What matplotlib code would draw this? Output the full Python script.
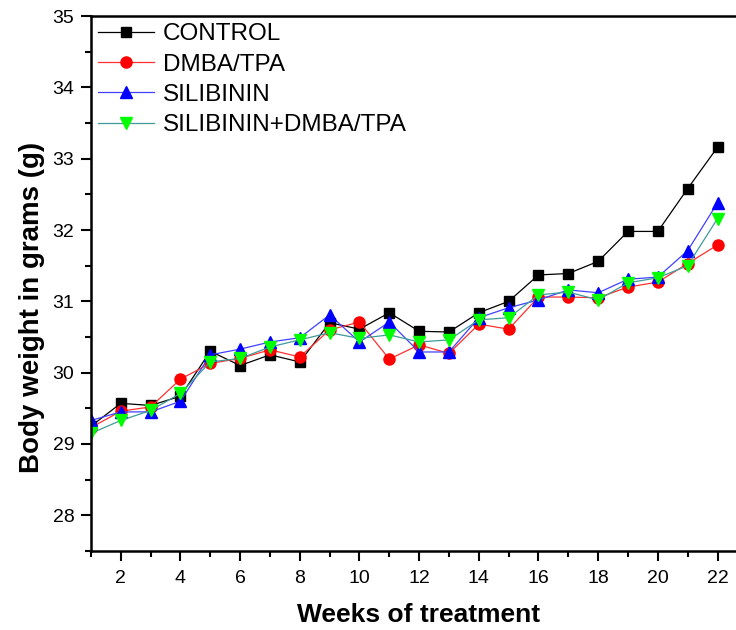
import matplotlib.pyplot as plt
from matplotlib.ticker import MultipleLocator

plt.rcParams['font.family'] = ['Liberation Sans', 'DejaVu Sans']

weeks = list(range(1, 23))
control = [29.25, 29.57, 29.54, 29.67, 30.30, 30.10, 30.25, 30.15, 30.70, 30.61, 30.84,
           30.58, 30.57, 30.84, 31.00, 31.37, 31.39, 31.56, 31.98, 31.98, 32.58, 33.16]
dmba_tpa = [29.23, 29.46, 29.52, 29.91, 30.13, 30.20, 30.32, 30.22, 30.60, 30.71, 30.19,
            30.39, 30.27, 30.68, 30.61, 31.06, 31.06, 31.05, 31.20, 31.27, 31.53, 31.79]
silibinin = [29.33, 29.45, 29.45, 29.60, 30.25, 30.33, 30.43, 30.49, 30.81, 30.43, 30.71,
             30.29, 30.29, 30.77, 30.91, 31.02, 31.16, 31.12, 31.31, 31.34, 31.71, 32.38]
sil_dmba = [29.15, 29.33, 29.47, 29.71, 30.15, 30.20, 30.36, 30.46, 30.56, 30.48, 30.53,
            30.43, 30.46, 30.74, 30.77, 31.09, 31.13, 31.02, 31.26, 31.33, 31.50, 32.16]

series = [
    ('CONTROL', control, 's', 'black', 'black', 7),
    ('DMBA/TPA', dmba_tpa, 'o', '#ff3030', 'red', 8),
    ('SILIBININ', silibinin, '^', '#4040ff', 'blue', 8.5),
    ('SILIBININ+DMBA/TPA', sil_dmba, 'v', '#3f9a9a', '#00ff00', 8.5),
]

fig = plt.figure(figsize=(7.36, 6.3), dpi=100)
ax = fig.add_axes([0.1236, 0.1254, 0.8764, 0.8492])

for name, vals, mk, lc, mc, ms in series:
    ax.plot(weeks, vals, color=lc, linewidth=0.9, marker=mk, markersize=ms,
            markerfacecolor=mc, markeredgecolor=mc, label=name)

ax.set_xlim(1, 22.62)
ax.set_ylim(27.5, 35)
ax.xaxis.set_major_locator(MultipleLocator(2))
ax.xaxis.set_minor_locator(MultipleLocator(1))
ax.yaxis.set_major_locator(MultipleLocator(1))
ax.yaxis.set_minor_locator(MultipleLocator(0.5))
ax.tick_params(which='major', length=7, width=1.5, labelsize=14, pad=5)
ax.tick_params(which='minor', length=4, width=1.5)
ax.tick_params(axis='x', which='major', pad=7)

for s in ['left', 'bottom', 'top']:
    ax.spines[s].set_linewidth(1.8)
ax.spines['right'].set_visible(False)

ax.set_xlabel('Weeks of treatment', fontsize=19, fontweight='bold')
ax.set_ylabel('Body weight in grams (g)', fontsize=20, fontweight='bold')
ax.xaxis.set_label_coords(0.508, -0.097)
ax.yaxis.set_label_coords(-0.072, 0.456)

ax.legend(loc='upper left', frameon=False, fontsize=17.5, handlelength=2.3,
          handletextpad=0.35, labelspacing=0.34, borderaxespad=0.0,
          borderpad=0.3, bbox_to_anchor=(0.0, 1.0))

fig.savefig('out.png', dpi=100)
